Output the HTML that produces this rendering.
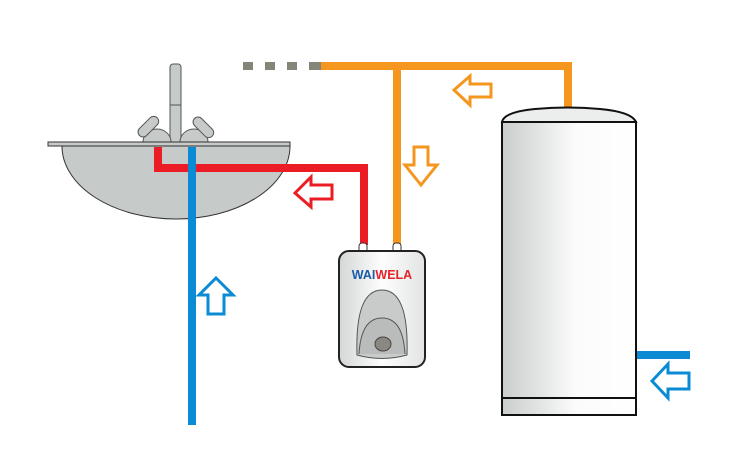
<!DOCTYPE html>
<html><head><style>html,body{margin:0;padding:0;background:#fff}svg{display:block}</style></head>
<body>
<svg width="754" height="451" viewBox="0 0 754 451" xmlns="http://www.w3.org/2000/svg">
<defs>
<linearGradient id="tg" x1="0" x2="1" y1="0" y2="0">
<stop offset="0" stop-color="#c9cdcc"/><stop offset="0.55" stop-color="#fbfbfb"/><stop offset="1" stop-color="#ffffff"/></linearGradient>
<linearGradient id="hg" x1="0" x2="1" y1="0" y2="0">
<stop offset="0" stop-color="#d4d7d6"/><stop offset="0.5" stop-color="#fdfdfd"/><stop offset="1" stop-color="#e2e4e3"/></linearGradient>
</defs>
<path d="M62 146 A114 73 0 0 0 290 146 Z" fill="#c6cac9" stroke="#333" stroke-width="1"/>
<rect x="170" y="64" width="11" height="80" rx="3" fill="#c6cac9" stroke="#555" stroke-width="1"/>
<line x1="170" y1="105" x2="181" y2="105" stroke="#555" stroke-width="1"/>
<path d="M143 142 A14 13 0 0 1 171 142 Z" fill="#c6cac9" stroke="#555"/>
<path d="M180 142 A14 13 0 0 1 208 142 Z" fill="#c6cac9" stroke="#555"/>
<rect x="136" y="122" width="25" height="10" rx="5" transform="rotate(-45 148 127)" fill="#c6cac9" stroke="#555"/>
<rect x="191" y="122" width="25" height="10" rx="5" transform="rotate(45 203 127)" fill="#c6cac9" stroke="#555"/>
<rect x="48" y="142" width="242" height="4" fill="#c6cac9" stroke="#333" stroke-width="1"/>
<path d="M158 147 V168 H364 V245" fill="none" stroke="#ec1c24" stroke-width="8"/>
<line x1="192" y1="147" x2="192" y2="425" stroke="#0a8bd4" stroke-width="8"/>
<path d="M321 66 H568 V110" fill="none" stroke="#f5961f" stroke-width="8"/>
<line x1="397" y1="66" x2="397" y2="245" stroke="#f5961f" stroke-width="8"/>
<g fill="#86857a"><rect x="243" y="62" width="10" height="8"/><rect x="265" y="62" width="10" height="8"/><rect x="287" y="62" width="10" height="8"/><rect x="309" y="62" width="12" height="8"/></g>
<line x1="637" y1="355" x2="690" y2="355" stroke="#0a8bd4" stroke-width="8"/>
<path d="M454 90 L470 76 V84 H491 V97 H470 V105 Z" fill="#fff" stroke="#f5961f" stroke-width="3"/>
<path d="M421 185 L405 165 H414 V147 H428 V165 H437 Z" fill="#fff" stroke="#f5961f" stroke-width="3"/>
<path d="M295 193 L311 177 V185 H332 V199 H311 V207 Z" fill="#fff" stroke="#ec1c24" stroke-width="3"/>
<path d="M216 278 L233 295 H224 V314 H208 V295 H199 Z" fill="#fff" stroke="#0a8bd4" stroke-width="3"/>
<path d="M652 381 L668 364 V373 H689 V389 H668 V398 Z" fill="#fff" stroke="#0a8bd4" stroke-width="3"/>
<rect x="359" y="243" width="8" height="10" rx="3" fill="#fff" stroke="#333"/>
<rect x="393" y="243" width="8" height="10" rx="3" fill="#fff" stroke="#333"/>
<rect x="339" y="251" width="86" height="116" rx="10" fill="url(#hg)" stroke="#222" stroke-width="2"/>
<text x="382" y="279" text-anchor="middle" font-family="Liberation Sans, sans-serif" font-weight="bold" font-size="12.5"><tspan fill="#1a5aa8">WAI</tspan><tspan fill="#e3242b">WELA</tspan></text>
<path d="M357 355 Q355 290 382 290 Q409 290 407 355 Q382 362 357 355 Z" fill="#c8cbca" stroke="#555"/>
<path d="M359 354 Q361 318 382 318 Q403 318 405 354" fill="#b9bcbb" stroke="#555"/>
<ellipse cx="383" cy="344" rx="8" ry="7" fill="#8a8880" stroke="#444"/>
<path d="M502 122 Q504 112 535 109 Q568 106 600 109 Q632 112 636 122 Z" fill="#eceeed" stroke="#111" stroke-width="2"/>
<rect x="502" y="122" width="134" height="276" fill="url(#tg)" stroke="#111" stroke-width="2"/>
<rect x="502" y="398" width="134" height="17" fill="url(#tg)" stroke="#111" stroke-width="2"/>
</svg>
</body></html>
